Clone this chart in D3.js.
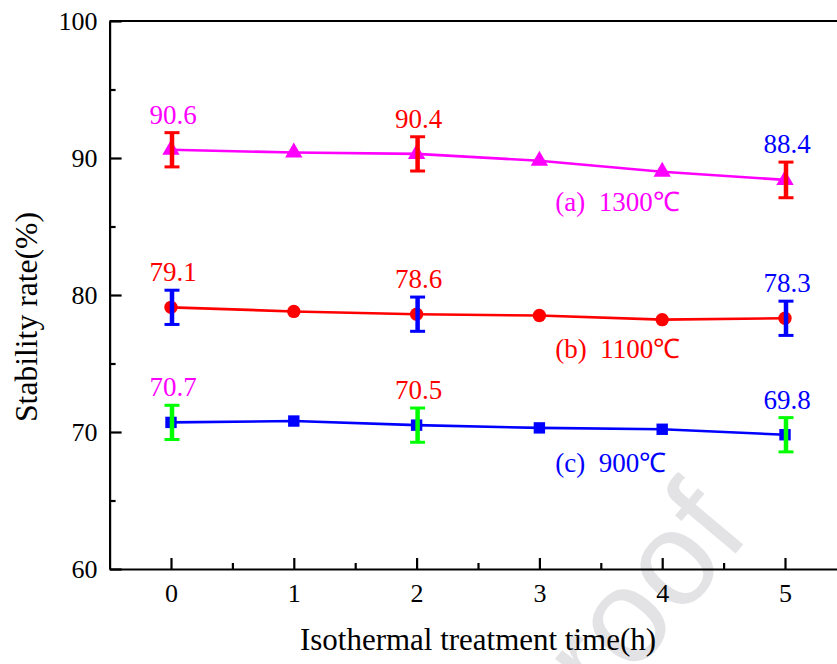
<!DOCTYPE html>
<html>
<head>
<meta charset="utf-8">
<title>Stability rate</title>
<style>
  body { margin: 0; background: #fff; }
  svg text { font-family: "Liberation Serif", "Times New Roman", serif; }
  .axis path, .axis line { stroke: #000; stroke-width: 2.2; fill: none; }
  .axis text { font-size: 26px; fill: #000; font-family: "Liberation Serif", serif; }
</style>
</head>
<body>
<svg id="chart" width="837" height="664"></svg>
<script src="https://d3js.org/d3.v7.min.js"></script>
<script>
// data
var times = [0, 1, 2, 3, 4, 5];
var s1300 = [90.6, 90.4, 90.3, 89.8, 89.0, 88.4];
var s1100 = [79.1, 78.8, 78.6, 78.5, 78.2, 78.3];
var s900  = [70.7, 70.8, 70.5, 70.3, 70.2, 69.8];

// error bars only at 0h, 2h and 5h
var errTimes = [0, 2, 5];
var err1300 = [1.25, 1.25, 1.3];
var err1100 = [1.25, 1.25, 1.25];
var err900  = [1.25, 1.25, 1.25];

// value labels above the error bars
var lab1300 = ["90.6", "90.4", "88.4"];
var lab1100 = ["79.1", "78.6", "78.3"];
var lab900  = ["70.7", "70.5", "69.8"];
var labColors1300 = ["#ff00ff", "#ff0000", "#0000ff"];
var labColors1100 = ["#ff0000", "#ff0000", "#0000ff"];
var labColors900  = ["#ff00ff", "#ff0000", "#0000ff"];

var yTicks = [60, 70, 80, 90, 100];
var xTicks = [0, 1, 2, 3, 4, 5];

var svg = d3.select("#chart");

var x = d3.scaleLinear().domain([-0.5, 5.5]).range([109.6, 846.4]);
var y = d3.scaleLinear().domain([60, 100]).range([569, 21]);

// watermark
svg.append("text")
  .attr("transform", "translate(752,534) rotate(-50)")
  .attr("text-anchor", "end")
  .style("font-family", "'Liberation Sans', Arial, sans-serif")
  .style("font-size", "134px")
  .style("fill", "#e3e3e5")
  .text("Journal Pre-proof");

// axes
svg.append("g").attr("class", "axis")
  .attr("transform", "translate(0," + y(60) + ")")
  .call(d3.axisBottom(x).tickValues(xTicks).tickSizeInner(-11).tickSizeOuter(0).tickPadding(15).tickFormat(d3.format("d")));
svg.append("g").attr("class", "axis")
  .attr("transform", "translate(0," + y(60) + ")")
  .call(d3.axisBottom(x).tickValues([0.5, 1.5, 2.5, 3.5, 4.5]).tickSizeInner(-6).tickSizeOuter(0).tickFormat(""))
  .select(".domain").remove();

svg.append("g").attr("class", "axis")
  .attr("transform", "translate(" + x(-0.5) + ",0)")
  .call(d3.axisLeft(y).tickValues(yTicks).tickSizeInner(-12).tickSizeOuter(0).tickPadding(12).tickFormat(d3.format("d")));
svg.append("g").attr("class", "axis")
  .attr("transform", "translate(" + x(-0.5) + ",0)")
  .call(d3.axisLeft(y).tickValues([65, 75, 85, 95]).tickSizeInner(-6).tickSizeOuter(0).tickFormat(""))
  .select(".domain").remove();

// top frame line
svg.append("line")
  .attr("x1", x(-0.5)).attr("x2", x(5.5))
  .attr("y1", y(100)).attr("y2", y(100))
  .attr("stroke", "#000").attr("stroke-width", 2.2);

// axis titles
svg.append("text")
  .attr("x", 478).attr("y", 650)
  .attr("text-anchor", "middle")
  .attr("textLength", 356)
  .attr("lengthAdjust", "spacingAndGlyphs")
  .style("font-size", "31px")
  .text("Isothermal treatment time(h)");
svg.append("text")
  .attr("transform", "translate(37,317) rotate(-90)")
  .attr("text-anchor", "middle")
  .attr("textLength", 210)
  .attr("lengthAdjust", "spacingAndGlyphs")
  .style("font-size", "31px")
  .text("Stability rate(%)");

var line = d3.line()
  .x(function(d, i) { return x(times[i]); })
  .y(function(d) { return y(d); });

function drawSeries(vals, color, shape) {
  svg.append("path")
    .datum(vals)
    .attr("d", line)
    .attr("fill", "none")
    .attr("stroke", color)
    .attr("stroke-width", 2.6);

  var sym = d3.symbol().type(shape).size(shape === d3.symbolCircle ? 140 : (shape === d3.symbolSquare ? 130 : 130));
  svg.selectAll(null)
    .data(vals)
    .enter().append("path")
    .attr("d", sym)
    .attr("transform", function(d, i) { return "translate(" + x(times[i]) + "," + y(d) + ")"; })
    .attr("fill", color);
}

function drawErrors(vals, errs, color, labels, labColors) {
  errTimes.forEach(function(t, k) {
    var v = vals[times.indexOf(t)];
    var e = errs[k];
    var cx = x(t) + 1;
    var g = svg.append("g").attr("stroke", color);
    g.append("line").attr("x1", cx).attr("x2", cx).attr("y1", y(v + e)).attr("y2", y(v - e)).attr("stroke-width", 4.5);
    g.append("line").attr("x1", cx - 7.5).attr("x2", cx + 7.5).attr("y1", y(v + e)).attr("y2", y(v + e)).attr("stroke-width", 3);
    g.append("line").attr("x1", cx - 7.5).attr("x2", cx + 7.5).attr("y1", y(v - e)).attr("y2", y(v - e)).attr("stroke-width", 3);

    svg.append("text")
      .attr("x", x(t) + 2)
      .attr("y", y(v + e) - 9)
      .attr("text-anchor", "middle")
      .style("font-size", "27px")
      .style("fill", labColors[k])
      .text(labels[k]);
  });
}

drawSeries(s1300, "#ff00ff", d3.symbolTriangle);
drawSeries(s1100, "#ff0000", d3.symbolCircle);
drawSeries(s900, "#0000ff", d3.symbolSquare);

drawErrors(s1300, err1300, "#ff0000", lab1300, labColors1300);
drawErrors(s1100, err1100, "#0000ff", lab1100, labColors1100);
drawErrors(s900, err900, "#00ff00", lab900, labColors900);

// series annotations
var notes = [
  { text: "(a)  1300\u2103", t: 3.13, v: 86.1, color: "#ff00ff" },
  { text: "(b)  1100\u2103", t: 3.13, v: 75.4, color: "#ff0000" },
  { text: "(c)  900\u2103", t: 3.13, v: 67.1, color: "#0000ff" }
];
svg.selectAll(null)
  .data(notes)
  .enter().append("text")
  .attr("x", function(d) { return x(d.t); })
  .attr("y", function(d) { return y(d.v); })
  .style("font-size", "27px")
  .style("fill", function(d) { return d.color; })
  .style("white-space", "pre")
  .text(function(d) { return d.text; });
</script>
</body>
</html>
